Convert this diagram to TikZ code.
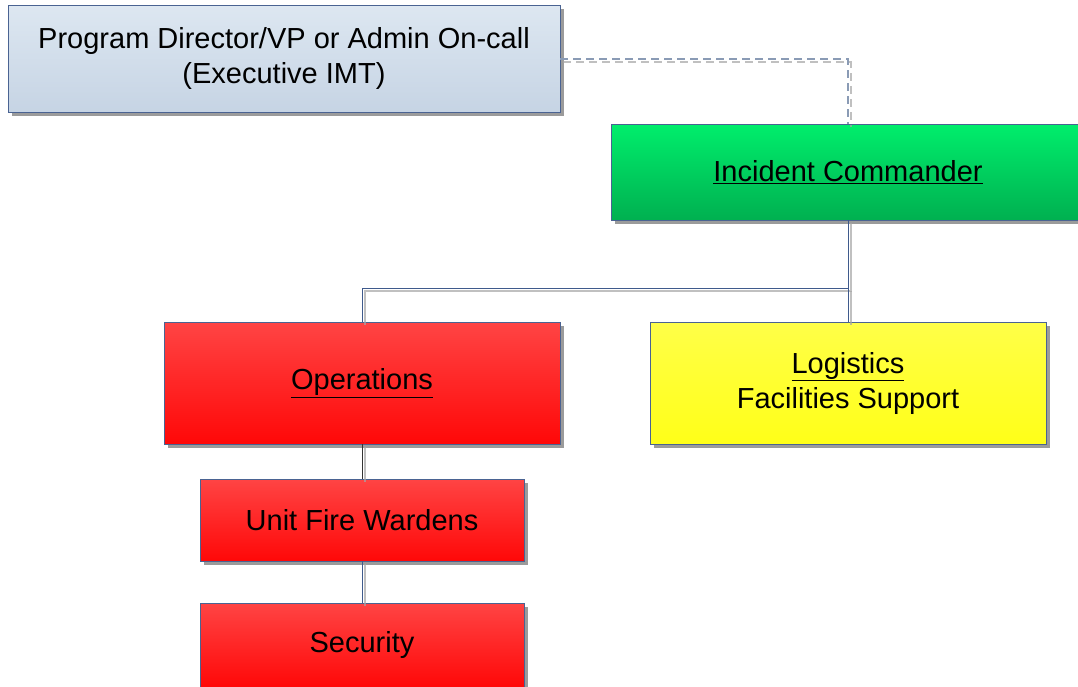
\documentclass[tikz,border=0pt]{standalone}
\usepackage{fontspec}
\setmainfont{Liberation Sans}
\usetikzlibrary{shadows}
\definecolor{bordc}{HTML}{4A6392}
\definecolor{exectop}{HTML}{DDE7F1}
\definecolor{execbot}{HTML}{C6D4E4}
\definecolor{grntop}{HTML}{00EE6C}
\definecolor{grnbot}{HTML}{00B050}
\definecolor{redtop}{HTML}{FF4444}
\definecolor{redbot}{HTML}{FF0808}
\definecolor{yeltop}{HTML}{FFFF48}
\definecolor{yelbot}{HTML}{FFFF18}
\definecolor{dashc}{HTML}{8A9BB5}
\definecolor{linec}{HTML}{3F5A8C}
\tikzset{
  x=1pt,y=1pt,
  box/.style={draw=bordc,line width=0.9pt,inner sep=0pt,align=center,
    font=\fontsize{29}{35}\selectfont,
    drop shadow={shadow xshift=4pt,shadow yshift=-4pt,fill=black!60,opacity=0.65}},
  execbox/.style={box,top color=exectop,bottom color=execbot},
  grnbox/.style={box,top color=grntop,bottom color=grnbot},
  redbox/.style={box,top color=redtop,bottom color=redbot},
  yelbox/.style={box,top color=yeltop,bottom color=yelbot},
  conn/.style={draw=linec,line width=0.8pt},
  connshadow/.style={draw=black!35,line width=2pt,opacity=0.7,transform canvas={shift={(3pt,-3pt)}}},
  dashconn/.style={draw=dashc,line width=1.2pt,dash pattern=on 8pt off 5pt},
}
\newcommand{\ul}[1]{\underline{#1}}
\begin{document}
\begin{tikzpicture}
\useasboundingbox (0,0) rectangle (1078,-686);
\clip (0,0) rectangle (1078,-686);
\fill[white] (0,0) rectangle (1078,-686);
% nodes
\node[execbox,minimum width=552pt,minimum height=107pt] (exec) at (284,-58.5)
  {Program Director/VP or Admin On-call\\(Executive IMT)};
\node[grnbox,minimum width=474pt,minimum height=96pt] (ic) at (848,-172)
  {\ul{Incident Commander}};
\node[redbox,minimum width=396pt,minimum height=122pt] (ops) at (362,-383)
  {\ul{Operations}};
\node[yelbox,minimum width=396pt,minimum height=122pt] (log) at (848,-383)
  {\ul{Logistics}\\Facilities Support};
\node[redbox,minimum width=324pt,minimum height=82pt] (ufw) at (362,-520)
  {Unit Fire Wardens};
\node[redbox,minimum width=324pt,minimum height=84pt] (sec) at (362,-645)
  {Security};
\coordinate (bus) at (848,-288);
\coordinate (dcorner) at (848,-59);
% connector shadows
\path[connshadow] (ic.south) -- (bus) -| (ops.north);
\path[connshadow] (bus) -- (log.north);
\path[connshadow] (ops.south) -- (ufw.north);
\path[connshadow] (ufw.south) -- (sec.north);
\path[connshadow,dash pattern=on 8pt off 5pt] (exec.east |- dcorner) -- (dcorner) -- (ic.north);
% connectors
\path[conn] (ic.south) -- (bus) -| (ops.north);
\path[conn] (bus) -- (log.north);
\path[conn,draw=black!80] (ops.south) -- (ufw.north);
\path[conn] (ufw.south) -- (sec.north);
\path[dashconn] (exec.east |- dcorner) -- (dcorner) -- (ic.north);
\end{tikzpicture}
\end{document}
